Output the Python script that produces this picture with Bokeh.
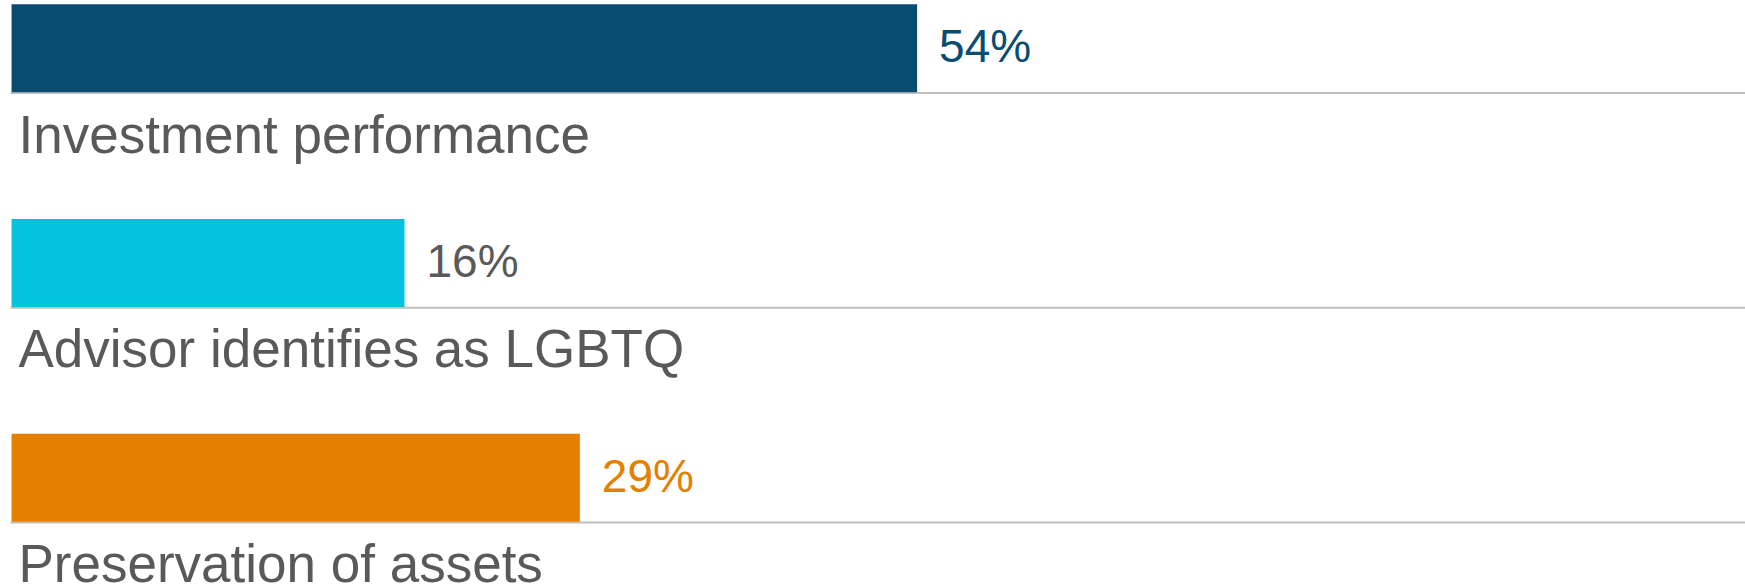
from bokeh.plotting import figure
from bokeh.models import ColumnDataSource, Range1d
from bokeh.embed import file_html
from bokeh.resources import INLINE
from bokeh.core.properties import value

# ---- data ----
categories = ["Investment performance", "Advisor identifies as LGBTQ", "Preservation of assets"]
values = [54, 16, 29]
value_labels = [f"{v}%" for v in values]

# ---- styles ----
bar_colors = ["#084d6f", "#05c3de", "#e47f00"]
value_text_colors = ["#084d6f", "#595959", "#e47f00"]
LABEL_COLOR = "#595959"
RULE_COLOR = "#c0c0c0"
FONT = "Liberation Sans"

W, H = 1745, 586
BASE = -13.13          # bar baseline on the value scale
X0, X1 = -13.95, 115.41
LINE_START = -13.21
Y_TOP, Y_BOTTOM = -0.2221, 2.5066
BAR_H = 0.41

rows = list(range(len(categories)))
src = ColumnDataSource(dict(
    row=rows,
    cat=categories,
    val=values,
    lab=value_labels,
    bar=bar_colors,
    vcol=value_text_colors,
    line_y=[r + BAR_H / 2 + 0.004 for r in rows],
))

p = figure(width=W, height=H, x_range=Range1d(X0, X1), y_range=Range1d(Y_BOTTOM, Y_TOP),
           output_backend="svg", toolbar_location=None, min_border=0)
p.axis.visible = False
p.grid.visible = False
p.outline_line_color = None
p.background_fill_color = "white"
p.border_fill_color = "white"

p.segment(x0=LINE_START, y0="line_y", x1=X1, y1="line_y", line_color=RULE_COLOR,
          line_width=2, source=src)
p.hbar(y="row", left=BASE, right="val", height=BAR_H, fill_color="bar",
       line_color=None, source=src)
p.text(x="val", y="row", text="lab", text_color="vcol", text_font=value(FONT),
       text_font_size="46px", text_baseline="alphabetic", text_align="left",
       x_offset=22, y_offset=-2, source=src)
p.text(x=X0, y="row", text="cat", text_color=LABEL_COLOR, text_font=value(FONT),
       text_font_size="53px", text_baseline="alphabetic", text_align="left",
       x_offset=18, y_offset=86, source=src)

open("out.html", "w").write(file_html(p, INLINE))
